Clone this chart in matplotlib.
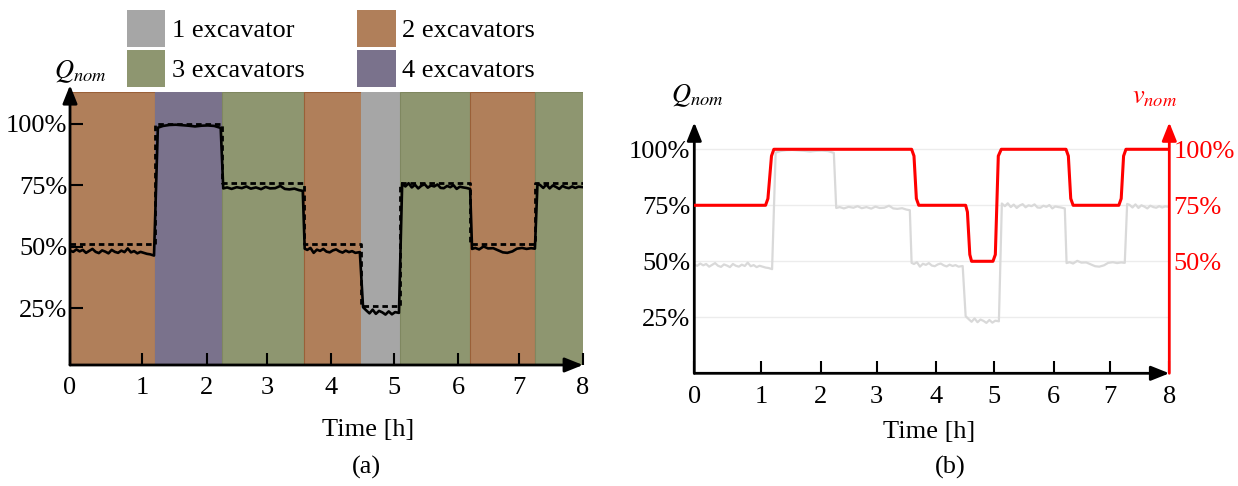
import matplotlib
matplotlib.use("Agg")
import matplotlib.pyplot as plt
from matplotlib.patches import Patch
import numpy as np

plt.rcParams['font.family'] = ['Liberation Serif', 'DejaVu Serif']
plt.rcParams['mathtext.fontset'] = 'stix'
FS = 19

# regions: number of excavators working between boundaries [h]
bounds = [0, 1.33, 2.37, 3.65, 4.54, 5.15, 6.24, 7.25, 8]
n_exc = [2, 4, 3, 2, 1, 3, 2, 3]
q_nominal = [51, 100, 76, 51, 26, 76, 51, 76]   # dashed, %

exc_colors = {1: '#a6a6a6', 2: '#b07f5a', 3: '#8e9670', 4: '#7a728c'}
exc_edges = {1: '#a6a6a6', 2: '#9a6038', 3: '#7f8760', 4: '#7a728c'}
exc_labels = {1: '1 excavator', 2: '2 excavators', 3: '3 excavators', 4: '4 excavators'}

# measured flow Q [%]
t_q = [0.00, 0.05, 0.10, 0.15, 0.20, 0.25, 0.30, 0.35, 0.40, 0.45, 0.50, 0.55, 0.60, 0.65,
       0.70, 0.75, 0.80, 0.85, 0.90, 0.95, 1.00, 1.05, 1.10, 1.15, 1.20, 1.25, 1.31,
       1.37, 1.45, 1.55, 1.65, 1.75, 1.85, 1.95, 2.05, 2.15, 2.25, 2.35,
       2.39, 2.45, 2.52, 2.60, 2.68, 2.75, 2.82, 2.90, 2.98, 3.05, 3.12, 3.20, 3.28, 3.35,
       3.42, 3.50, 3.57, 3.63,
       3.66, 3.70, 3.75, 3.80, 3.85, 3.90, 3.95, 4.00, 4.05, 4.10, 4.15, 4.20, 4.25, 4.30,
       4.35, 4.40, 4.45, 4.52,
       4.57, 4.62, 4.67, 4.72, 4.77, 4.82, 4.87, 4.92, 4.97, 5.02, 5.07, 5.13,
       5.18, 5.23, 5.28, 5.33, 5.38, 5.43, 5.48, 5.53, 5.58, 5.63, 5.68, 5.73, 5.78, 5.83,
       5.88, 5.93, 5.98, 6.03, 6.08, 6.13, 6.18, 6.24,
       6.27, 6.32, 6.38, 6.45, 6.52, 6.60, 6.68, 6.75, 6.82, 6.90, 6.97, 7.05, 7.12, 7.19, 7.25,
       7.29, 7.33, 7.38, 7.43, 7.48, 7.53, 7.58, 7.63, 7.68, 7.73, 7.78, 7.83, 7.88, 7.93, 8.00]
q_meas = [48.5, 48.0, 49.0, 48.2, 48.8, 47.6, 48.4, 49.2, 48.0, 47.5, 48.6, 48.1, 47.4, 48.8,
          48.0, 47.6, 48.5, 47.9, 49.4, 47.8, 48.3, 47.4, 48.0, 47.6, 47.2, 47.0, 46.5,
          98.5, 99.2, 99.6, 99.7, 99.5, 99.3, 99.0, 99.3, 99.4, 99.2, 98.4,
          73.8, 74.2, 73.6, 74.3, 73.9, 74.6, 73.7, 74.2, 73.5, 74.4, 73.8, 73.9, 74.8, 73.6,
          73.4, 73.7, 73.1, 72.8,
          49.3, 48.8, 49.6, 47.6, 48.9, 48.4, 49.2, 48.1, 47.8, 48.6, 49.0, 48.2, 47.7, 48.5,
          47.9, 48.3, 47.6, 47.9,
          25.5, 24.2, 23.0, 24.5, 22.8, 24.0, 23.4, 22.5, 23.8, 22.6, 23.5, 23.2,
          75.8, 74.6, 75.9, 74.2, 75.3, 73.8, 74.9, 75.5, 74.1, 75.0, 74.6, 75.4, 74.0, 73.9,
          74.8, 74.3, 75.1, 73.6, 74.5, 74.2, 74.0, 73.6,
          49.2, 49.6, 49.0, 50.2, 49.4, 49.5, 48.6, 47.8, 47.6, 48.2, 49.3, 49.6, 49.2, 49.5, 49.3,
          75.6, 75.2, 74.0, 75.4, 73.8, 75.0, 74.4, 73.6, 74.8, 74.2, 73.9, 74.6, 74.0, 74.5, 74.3]

# pump speed v [%]
t_v = [0, 1.20, 1.24, 1.30, 1.34, 3.66, 3.70, 3.74, 3.78, 4.57, 4.60, 4.64, 4.67,
       5.03, 5.07, 5.12, 5.17, 6.26, 6.30, 6.34, 6.38, 7.15, 7.19, 7.23, 7.27, 8]
v_nom = [75, 75, 78, 97, 100, 100, 97, 78, 75, 75, 72, 53, 50,
         50, 53, 97, 100, 100, 97, 78, 75, 75, 78, 97, 100, 100]

xtick_pos = [0, 1.12, 2.13, 3.07, 4.07, 5.05, 6.05, 7.0, 8]
xtick_lab = ['0', '1', '2', '3', '4', '5', '6', '7', '8']
ytick_vals = [25, 50, 75, 100]

W, H = 1238, 486
fig = plt.figure(figsize=(W / 100, H / 100), dpi=100)


def axis_arrow(ax, start, end, color):
    ax.annotate('', xy=end, xytext=start, xycoords='axes fraction',
                arrowprops=dict(arrowstyle='-|>,head_length=0.55,head_width=0.22',
                                color=color, lw=2.0, shrinkA=0, shrinkB=0,
                                mutation_scale=20), zorder=10)


# ---------------- (a) ----------------
ax = fig.add_axes([70 / W, 1 - 365 / H, 513 / W, 273 / H])
for i in range(len(n_exc)):
    ax.axvspan(bounds[i], bounds[i + 1], facecolor=exc_colors[n_exc[i]],
               edgecolor=exc_edges[n_exc[i]], lw=0.8, zorder=0)
ax.step(bounds, q_nominal + [q_nominal[-1]], where='post', color='black', lw=2.0,
        ls=(0, (2.0, 1.4)), zorder=3)
ax.plot(t_q, q_meas, color='black', lw=1.9, zorder=4)
ax.set_xlim(0, 8)
ax.set_ylim(2, 113)
for s in ax.spines.values():
    s.set_visible(False)
axis_arrow(ax, (0, 0), (1, 0), 'black')
axis_arrow(ax, (0, 0), (0, 1.025), 'black')
ax.set_xticks(xtick_pos, xtick_lab)
ax.set_yticks(ytick_vals, [f'{v}%' for v in ytick_vals])
ax.tick_params(axis='x', direction='in', length=9, width=1.5, pad=9, labelsize=FS)
ax.tick_params(axis='y', direction='in', length=9, width=1.5, pad=2, labelsize=FS)
fig.text(80 / W, 1 - 72 / H, r'$Q_{nom}$', fontsize=FS, ha='center', va='center')

handles = [Patch(facecolor=exc_colors[k], label=exc_labels[k]) for k in (1, 3, 2, 4)]
fig.legend(handles=handles, ncol=2, loc='upper left',
           bbox_to_anchor=(127 / W, 1 - 10 / H), bbox_transform=fig.transFigure,
           frameon=False, fontsize=FS, handlelength=1.45, handleheight=1.8,
           handletextpad=0.25, columnspacing=2.0, labelspacing=0.1,
           borderpad=0, borderaxespad=0)

fig.text(368 / W, 1 - 430 / H, 'Time [h]', fontsize=FS, ha='center', va='center')
fig.text(366 / W, 1 - 467 / H, '(a)', fontsize=FS, ha='center', va='center')

# ---------------- (b) ----------------
bx = fig.add_axes([694.3 / W, 1 - 373.3 / H, 475 / W, 250.9 / H])
bx.plot(t_q, q_meas, color='#d9d9d9', lw=1.6, zorder=2)
bx.set_xlim(0, 8)
bx.set_ylim(0, 112)
for s in bx.spines.values():
    s.set_visible(False)
bx.set_yticks(ytick_vals, [f'{v}%' for v in ytick_vals])
bx.set_yticks([100], minor=True)
bx.yaxis.grid(True, color='#ececec', lw=1.0)
bx.set_axisbelow(True)
bx.tick_params(axis='y', which='major', length=0, pad=3, labelsize=FS)
bx.tick_params(axis='y', which='minor', direction='in', length=9, width=1.5)
bx.set_xticks(xtick_pos, xtick_lab)
bx.tick_params(axis='x', direction='in', length=9, width=1.5, pad=9, labelsize=FS)
axis_arrow(bx, (0, 0), (1, 0), 'black')
axis_arrow(bx, (0, 0), (0, 1.0), 'black')

bx2 = bx.twinx()
bx2.plot(t_v, v_nom, color='#ff0000', lw=2.2, zorder=3)
bx2.set_ylim(0, 112)
for s in bx2.spines.values():
    s.set_visible(False)
bx2.set_yticks([50, 75, 100], ['50%', '75%', '100%'])
bx2.tick_params(axis='y', length=0, pad=3, labelsize=FS, labelcolor='#ff0000')
axis_arrow(bx2, (1, 0), (1, 1.0), '#ff0000')

fig.text(697 / W, 1 - 96 / H, r'$Q_{nom}$', fontsize=FS, ha='center', va='center')
fig.text(1155 / W, 1 - 98 / H, r'$v_{nom}$', fontsize=FS, ha='center', va='center',
         color='#ff0000')
fig.text(929 / W, 1 - 432 / H, 'Time [h]', fontsize=FS, ha='center', va='center')
fig.text(950 / W, 1 - 467 / H, '(b)', fontsize=FS, ha='center', va='center')

fig.savefig('out.png', dpi=100)
